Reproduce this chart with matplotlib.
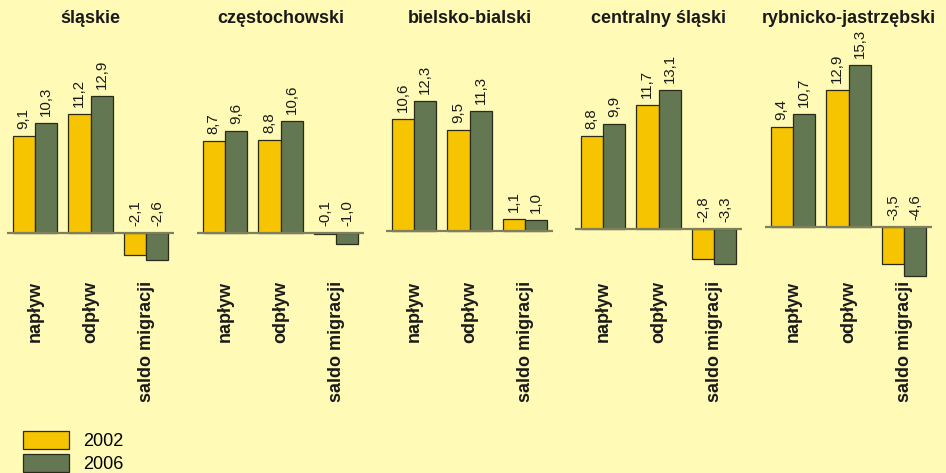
import matplotlib
matplotlib.use('Agg')
import matplotlib.pyplot as plt
import matplotlib.transforms as mtransforms
from matplotlib.patches import Patch

plt.rcParams['font.family'] = ['Liberation Sans', 'DejaVu Sans']

regiony = ['śląskie', 'częstochowski', 'bielsko-bialski', 'centralny śląski', 'rybnicko-jastrzębski']
kategorie = ['napływ', 'odpływ', 'saldo migracji']
lata = ['2002', '2006']
w2002 = [[9.1, 11.2, -2.1], [8.7, 8.8, -0.1], [10.6, 9.5, 1.1], [8.8, 11.7, -2.8], [9.4, 12.9, -3.5]]
w2006 = [[10.3, 12.9, -2.6], [9.6, 10.6, -1.0], [12.3, 11.3, 1.0], [9.9, 13.1, -3.3], [10.7, 15.3, -4.6]]

kolory = ['#F6C400', '#637852']
tlo = '#FFFAB5'

W, H = 946, 473
fig = plt.figure(figsize=(W / 100, H / 100), dpi=100, facecolor=tlo)

# uklad paneli w pikselach (lewa krawedz, wiersz linii zera)
lewe = [7, 197, 386, 575, 765]
zera = [232.5, 233, 231, 229, 227]
szer = 167
gora, dol = 40, 300
px_na_jedn = 10.6

for k in range(5):
    ax = fig.add_axes([lewe[k] / W, (H - dol) / H, szer / W, (dol - gora) / H])
    ax.set_facecolor('none')
    for s in ax.spines.values():
        s.set_visible(False)
    ax.set_xticks([])
    ax.set_yticks([])
    ax.set_xlim(-0.5, 2.5)
    ax.set_ylim(-(dol - zera[k]) / px_na_jedn, (zera[k] - gora) / px_na_jedn)
    x = range(len(kategorie))
    for j, (dane, off) in enumerate([(w2002[k], -0.2), (w2006[k], 0.2)]):
        xs = [i + off for i in x]
        ax.bar(xs, dane, width=0.4, color=kolory[j], edgecolor='#2a2a1a', linewidth=0.9, zorder=2)
        for xi, v in zip(xs, dane):
            ax.annotate(f'{v:.1f}'.replace('.', ','), (xi, max(v, 0)), xytext=(0, 5),
                        textcoords='offset points', rotation=90, ha='center', va='bottom',
                        fontsize=10.8, color='#1a1a1a')
    ax.axhline(0, color='#7f7f60', lw=1.6, zorder=3)
    tr = mtransforms.blended_transform_factory(ax.transData, fig.transFigure)
    for i, kat in enumerate(kategorie):
        ax.text(i, 1 - 281 / H, kat, transform=tr, rotation=90, ha='center', va='top',
                fontsize=13, fontweight='bold', color='#1a1a1a')
    fig.text((lewe[k] + szer / 2) / W, 1 - 23 / H, regiony[k], ha='center', va='baseline',
             fontsize=13, fontweight='bold', color='#1a1a1a')

uchwyty = [Patch(facecolor=kolory[0], edgecolor='#2a2a1a', linewidth=0.9),
           Patch(facecolor=kolory[1], edgecolor='#2a2a1a', linewidth=0.9)]
fig.legend(uchwyty, lata, loc='upper left', bbox_to_anchor=(23 / W, 1 - 431 / H),
           frameon=False, fontsize=13, handlelength=2.55, handleheight=1.15,
           labelspacing=0.2, handletextpad=0.8, borderpad=0, borderaxespad=0)

fig.savefig('out.png', dpi=100, facecolor=tlo)
